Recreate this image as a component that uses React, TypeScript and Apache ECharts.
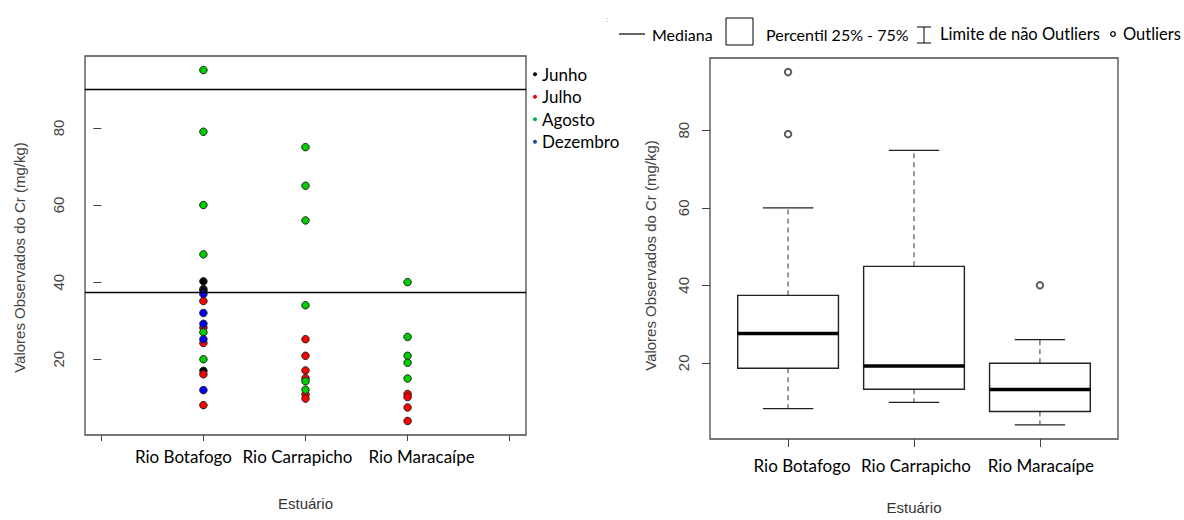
import React, { useEffect, useRef } from "react";
import * as echarts from "echarts";

// ---------- data ----------
const estuaries = ["Rio Botafogo", "Rio Carrapicho", "Rio Maracaípe"];
const months = ["Junho", "Julho", "Agosto", "Dezembro"];
// observed Cr values (mg/kg) per month, one list per estuary
const junho = [[40.2, 38.2, 37.8, 17], [], []];
const julho = [[35.1, 28.2, 24.2, 16.1, 8.1], [25.2, 20.9, 17.1, 15.1, 10.9, 9.8], [11, 10.2, 7.5, 4]];
const agosto = [[95, 79, 60, 47.2, 27, 20], [75, 65, 56, 34, 14.3, 12.1], [40, 25.8, 20.9, 19.1, 15]];
const dezembro = [[36.9, 32, 29.2, 25.2, 12], [], []];
const monthValues = [junho, julho, agosto, dezembro];
const monthColors = ["#000000", "#ff0000", "#00cd00", "#0000ff"];
const legendColors = ["#000000", "#ff0000", "#00b050", "#1f4e9c"];
const guideLines = [90, 37.3];

// box plot (right panel)
const boxMin = [8.2, 9.8, 4];
const boxQ1 = [18.6, 13.2, 7.45];
const boxMedian = [27.6, 19.2, 13.1];
const boxQ3 = [37.4, 44.9, 19.9];
const boxMax = [60, 74.8, 26];
const outlierEstuary = [0, 0, 2];
const outlierValue = [95, 79, 40];

const yTicks = [20, 40, 60, 80];
const yMin = 0.36;
const yMax = 98.64;

const ARIAL = "'Liberation Sans', Arial, sans-serif";
const CAL = "Lato, 'Noto Sans', sans-serif";

function labelRich(offsets: number[], size: number) {
  const rich: any = {};
  offsets.forEach((o, i) => {
    rich["l" + i] = {
      fontFamily: CAL,
      fontSize: size,
      color: "#000",
      padding: o < 0 ? [0, -2 * o, 0, 0] : [0, 0, 0, 2 * o],
    };
  });
  return rich;
}

export default function App() {
  const ref = useRef<HTMLDivElement>(null);
  useEffect(() => {
    if (!ref.current) return;
    const chart = echarts.init(ref.current, undefined, { renderer: "svg" });

    const scatterSeries = months.map((m, mi) => {
      const data: number[][] = [];
      monthValues[mi].forEach((vals, ei) => vals.forEach((v) => data.push([ei + 1, v])));
      const s: any = {
        name: m,
        type: "scatter",
        xAxisIndex: 0,
        yAxisIndex: 0,
        data,
        symbol: "circle",
        symbolSize: 7.5,
        itemStyle: { color: monthColors[mi], borderColor: "#222", borderWidth: 1, opacity: 1 },
        emphasis: { disabled: true },
        silent: true,
      };
      if (mi === 0) {
        s.markLine = {
          silent: true,
          symbol: ["none", "none"],
          label: { show: false },
          lineStyle: { color: "#000", width: 1.3, type: "solid" },
          emphasis: { disabled: true },
          data: guideLines.map((g) => ({ yAxis: g })),
        };
      }
      return s;
    });

    const boxData = estuaries.map((_, i) => [i + 1, boxMin[i], boxQ1[i], boxMedian[i], boxQ3[i], boxMax[i]]);

    const option: any = {
      animation: false,
      grid: [
        { left: 85, top: 56, width: 441, height: 379, show: true, borderColor: "#4a4a4a", borderWidth: 1.3, backgroundColor: "transparent" },
        { left: 710, top: 58, width: 408, height: 386, show: true, borderColor: "#4a4a4a", borderWidth: 1.3, backgroundColor: "transparent" },
      ],
      legend: {
        orient: "vertical",
        left: 528,
        top: 60,
        icon: "circle",
        itemWidth: 4,
        itemHeight: 4,
        itemGap: 4,
        selectedMode: false,
        textStyle: { fontFamily: CAL, fontSize: 17, color: "#000", lineHeight: 18.5 },
        data: months.map((m, i) => ({ name: m, itemStyle: { color: legendColors[i], borderWidth: 0 } })),
      },
      xAxis: [
        {
          type: "value",
          gridIndex: 0,
          min: -0.16,
          max: 4.16,
          axisLine: { show: false },
          splitLine: { show: false },
          axisTick: { show: true, customValues: [0, 1, 2, 3, 4], length: 6, lineStyle: { color: "#444", width: 1 } },
          axisLabel: {
            customValues: [1, 2, 3],
            margin: 13,
            formatter: (v: number) => {
              const i = Math.round(v) - 1;
              return `{l${i}|${estuaries[i]}}`;
            },
            rich: labelRich([-20, -8, 14], 17),
          },
          name: "Estuário",
          nameLocation: "middle",
          nameGap: 61,
          nameTextStyle: { fontFamily: ARIAL, fontSize: 15, color: "#333" },
        },
        {
          type: "value",
          gridIndex: 1,
          min: 0.38,
          max: 3.62,
          axisLine: { show: false },
          splitLine: { show: false },
          axisTick: { show: true, customValues: [1, 2, 3], length: 8, lineStyle: { color: "#444", width: 1 } },
          axisLabel: {
            customValues: [1, 2, 3],
            margin: 18,
            formatter: (v: number) => {
              const i = Math.round(v) - 1;
              return `{l${i}|${estuaries[i]}}`;
            },
            rich: labelRich([14, 2, 1], 17),
          },
          name: "Estuário",
          nameLocation: "middle",
          nameGap: 61,
          nameTextStyle: { fontFamily: ARIAL, fontSize: 15, color: "#333" },
        },
      ],
      yAxis: [0, 1].map((g) => ({
        type: "value",
        gridIndex: g,
        min: yMin,
        max: yMax,
        axisLine: { show: false },
        splitLine: { show: false },
        axisTick: { show: true, customValues: yTicks, length: 8, lineStyle: { color: "#444", width: 1 } },
        axisLabel: {
          customValues: yTicks,
          rotate: 90,
          margin: 19,
          fontFamily: ARIAL,
          fontSize: 15,
          color: "#444",
        },
        name: "Valores Observados do Cr (mg/kg)",
        nameLocation: "middle",
        nameRotate: 90,
        nameGap: g === 0 ? 58 : 52,
        nameTextStyle: {
          fontFamily: ARIAL,
          fontSize: 15,
          color: "#444",
          padding: g === 0 ? [0, 24, 0, 0] : [0, 14, 0, 0],
        },
      })),
      series: [
        ...scatterSeries,
        {
          type: "custom",
          xAxisIndex: 1,
          yAxisIndex: 1,
          data: boxData,
          encode: { x: 0, y: [1, 2, 3, 4, 5] },
          silent: true,
          renderItem: (params: any, api: any) => {
            const x = api.value(0);
            const c = (v: number) => api.coord([x, v]);
            const pMin = c(api.value(1));
            const pQ1 = c(api.value(2));
            const pMed = c(api.value(3));
            const pQ3 = c(api.value(4));
            const pMax = c(api.value(5));
            const cx = pMed[0];
            const half = (api.coord([x + 0.4, 0])[0] - api.coord([x - 0.4, 0])[0]) / 2;
            const cap = half / 2;
            const dash = { stroke: "#444", lineWidth: 1.1, lineDash: [5, 4] };
            const solid = { stroke: "#222", lineWidth: 1.3 };
            return {
              type: "group",
              children: [
                { type: "line", shape: { x1: cx, y1: pQ3[1], x2: cx, y2: pMax[1] }, style: dash },
                { type: "line", shape: { x1: cx, y1: pQ1[1], x2: cx, y2: pMin[1] }, style: dash },
                { type: "line", shape: { x1: cx - cap, y1: pMax[1], x2: cx + cap, y2: pMax[1] }, style: solid },
                { type: "line", shape: { x1: cx - cap, y1: pMin[1], x2: cx + cap, y2: pMin[1] }, style: solid },
                {
                  type: "rect",
                  shape: { x: cx - half, y: pQ3[1], width: 2 * half, height: pQ1[1] - pQ3[1] },
                  style: { fill: "#fff", stroke: "#222", lineWidth: 1.4 },
                },
                { type: "line", shape: { x1: cx - half, y1: pMed[1], x2: cx + half, y2: pMed[1] }, style: { stroke: "#000", lineWidth: 3.5 } },
              ],
            };
          },
        },
        {
          type: "scatter",
          xAxisIndex: 1,
          yAxisIndex: 1,
          data: outlierValue.map((v, i) => [outlierEstuary[i] + 1, v]),
          symbol: "emptyCircle",
          symbolSize: 6.5,
          itemStyle: { color: "#333", borderWidth: 1.1 },
          emphasis: { disabled: true },
          silent: true,
        },
      ],
      graphic: [
        { type: "text", x: 606, y: 16, style: { text: ":", fontSize: 7, fill: "#666", fontFamily: ARIAL } },
        { type: "line", shape: { x1: 619, y1: 34, x2: 645, y2: 34 }, style: { stroke: "#000", lineWidth: 1.2 } },
        { type: "text", x: 652, y: 34, style: { text: "Mediana", fontFamily: CAL, fontSize: 16, fill: "#000", verticalAlign: "middle" } },
        { type: "rect", shape: { x: 726, y: 18, width: 27, height: 27 }, style: { fill: "#fff", stroke: "#000", lineWidth: 1 } },
        { type: "text", x: 766, y: 34, style: { text: "Percentil 25% - 75%", fontFamily: CAL, fontSize: 16, fill: "#000", verticalAlign: "middle" } },
        { type: "line", shape: { x1: 924, y1: 27, x2: 924, y2: 43 }, style: { stroke: "#000", lineWidth: 1 } },
        { type: "line", shape: { x1: 917, y1: 27, x2: 931, y2: 27 }, style: { stroke: "#000", lineWidth: 1 } },
        { type: "line", shape: { x1: 917, y1: 43, x2: 931, y2: 43 }, style: { stroke: "#000", lineWidth: 1 } },
        { type: "text", x: 940, y: 34, style: { text: "Limite de não Outliers", fontFamily: CAL, fontSize: 16.5, fill: "#000", verticalAlign: "middle" } },
        { type: "circle", shape: { cx: 1113, cy: 34, r: 2.3 }, style: { fill: "#fff", stroke: "#000", lineWidth: 1.3 } },
        { type: "text", x: 1123, y: 34, style: { text: "Outliers", fontFamily: CAL, fontSize: 16.5, fill: "#000", verticalAlign: "middle" } },
      ],
    };
    chart.setOption(option);
    return () => chart.dispose();
  }, []);
  return <div ref={ref} style={{ position: "fixed", left: 0, top: 0, width: 1184, height: 520, background: "#fff" }} />;
}
